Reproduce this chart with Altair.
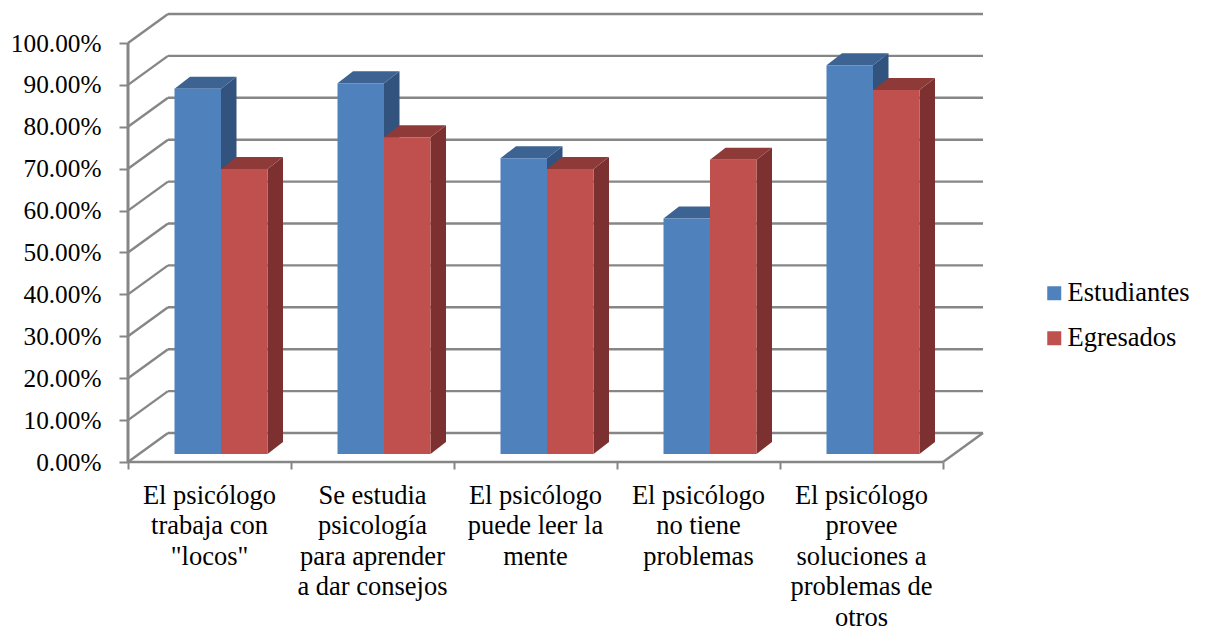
import altair as alt
import pandas as pd

categories = [
    "El psicólogo\ntrabaja con\n\"locos\"",
    "Se estudia\npsicología\npara aprender\na dar consejos",
    "El psicólogo\npuede leer la\nmente",
    "El psicólogo\nno tiene\nproblemas",
    "El psicólogo\nprovee\nsoluciones a\nproblemas de\notros",
]
series_names = ["Estudiantes", "Egresados"]
estudiantes = [0.872, 0.885, 0.706, 0.562, 0.928]
egresados = [0.680, 0.756, 0.680, 0.702, 0.869]
y_ticks = [0.0, 0.1, 0.2, 0.3, 0.4, 0.5, 0.6, 0.7, 0.8, 0.9, 1.0]

FONT = "Liberation Serif"
FONT_SIZE = 26.5
AXIS_FONT_SIZE = 25.3
GRID = "#868686"
FRONT = {"Estudiantes": "#4F81BD", "Egresados": "#C0504D"}
SIDE = {"Estudiantes": "#31537E", "Egresados": "#7C3130"}
TOP = {"Estudiantes": "#3D6392", "Egresados": "#8E3A39"}

PW, PH = 855, 449
STEP = 163.0
PX_PER_UNIT = 419.0
XMAX = PW / STEP
YMAX = PH / PX_PER_UNIT
DX = 40 / STEP          # wall depth
DY = 29 / PX_PER_UNIT
BASE = 8 / PX_PER_UNIT  # bars stand a little behind the front edge
BDX = 15.5 / STEP       # bar depth
BDY = 12 / PX_PER_UNIT
BW = 46.5 / STEP
BSTART = 46.5 / STEP

xs = alt.Scale(domain=[0, XMAX], nice=False, zero=False)
ys = alt.Scale(domain=[0, YMAX], nice=False, zero=False)
X = alt.X("x:Q", scale=xs, axis=alt.Axis(
    values=list(range(len(categories) + 1)), labels=False, title=None, grid=False,
    domain=False, ticks=True, tickSize=7, tickWidth=2, tickColor=GRID))
Y = alt.Y("y:Q", scale=ys, axis=alt.Axis(
    values=y_ticks, format=".2%", title=None, grid=False, domain=False,
    tickSize=9, tickWidth=2, tickColor=GRID, labelPadding=18,
    labelFont=FONT, labelFontSize=AXIS_FONT_SIZE, labelColor="#000000"))

# walls ------------------------------------------------------------------
wall_rows = []
for v in y_ticks:
    wall_rows += [
        {"id": f"d{v}", "x": 0, "y": v},
        {"id": f"d{v}", "x": DX, "y": v + DY},
        {"id": f"b{v}", "x": DX, "y": v + DY},
        {"id": f"b{v}", "x": XMAX, "y": v + DY},
    ]
wall_rows += [
    {"id": "front", "x": 0, "y": 0},
    {"id": "front", "x": XMAX - DX, "y": 0},
    {"id": "right", "x": XMAX - DX, "y": 0},
    {"id": "right", "x": XMAX, "y": DY},
]
walls = alt.Chart(pd.DataFrame(wall_rows)).mark_line(
    color=GRID, strokeWidth=2.4
).encode(x=X, y=Y, detail="id:N")
left_edge = alt.Chart(pd.DataFrame({"x": [0, 0], "y": [0, y_ticks[-1]]})).mark_line(
    color=GRID, strokeWidth=3
).encode(x=X, y=Y)

# bars -------------------------------------------------------------------
values = {"Estudiantes": estudiantes, "Egresados": egresados}
layers = [walls, left_edge]
color = alt.Color(
    "serie:N",
    scale=alt.Scale(domain=series_names, range=[FRONT[s] for s in series_names]),
    legend=alt.Legend(
        title=None, orient="none", legendX=913, legendY=267, symbolType="square",
        symbolSize=196, symbolStrokeWidth=0, labelFont=FONT, labelFontSize=FONT_SIZE,
        labelColor="#000000", rowPadding=18, labelOffset=0, symbolOpacity=1,
    ),
)
for si, s in enumerate(series_names):
    front, side, top = [], [], []
    for ci, v in enumerate(values[s]):
        x0 = ci + BSTART + si * BW
        x1 = x0 + BW
        h = BASE + v
        front.append({"serie": s, "x": x0, "x2": x1, "y": BASE, "y2": h})
        side += [
            {"id": ci, "x": x1, "y": BASE, "y2": h},
            {"id": ci, "x": x1 + BDX, "y": BASE + BDY, "y2": h + BDY},
        ]
        top += [
            {"id": ci, "x": x0, "x2": x1, "y": h},
            {"id": ci, "x": x0 + BDX, "x2": x1 + BDX, "y": h + BDY},
        ]
    side_l = alt.Chart(pd.DataFrame(side)).mark_area(color=SIDE[s], opacity=1).encode(
        x=X, y=Y, y2="y2:Q", detail="id:N")
    top_l = alt.Chart(pd.DataFrame(top)).mark_area(color=TOP[s], opacity=1, orient="horizontal").encode(
        x=X, x2="x2:Q", y=Y, detail="id:N")
    front_l = alt.Chart(pd.DataFrame(front)).mark_rect(opacity=1).encode(
        x=X, x2="x2:Q", y=Y, y2="y2:Q", color=color)
    layers += [side_l, top_l, front_l]

# category labels --------------------------------------------------------
labels = alt.Chart(pd.DataFrame({
    "x": [i + 0.5 for i in range(len(categories))],
    "t": categories,
})).mark_text(
    font=FONT, fontSize=FONT_SIZE, color="#000000", baseline="top", align="center",
    lineBreak="\n", lineHeight=30.5,
).encode(x=X, y=alt.value(469.5), text="t:N")
layers.append(labels)

chart = alt.layer(*layers).properties(
    width=PW, height=PH,
    autosize=alt.AutoSizeParams(type="none"),
    padding={"left": 120, "top": 5, "right": 210, "bottom": 172},
    background="#ffffff",
).configure_view(stroke=None)

chart.save("out.html", embed_options={"renderer": "svg", "actions": False})
